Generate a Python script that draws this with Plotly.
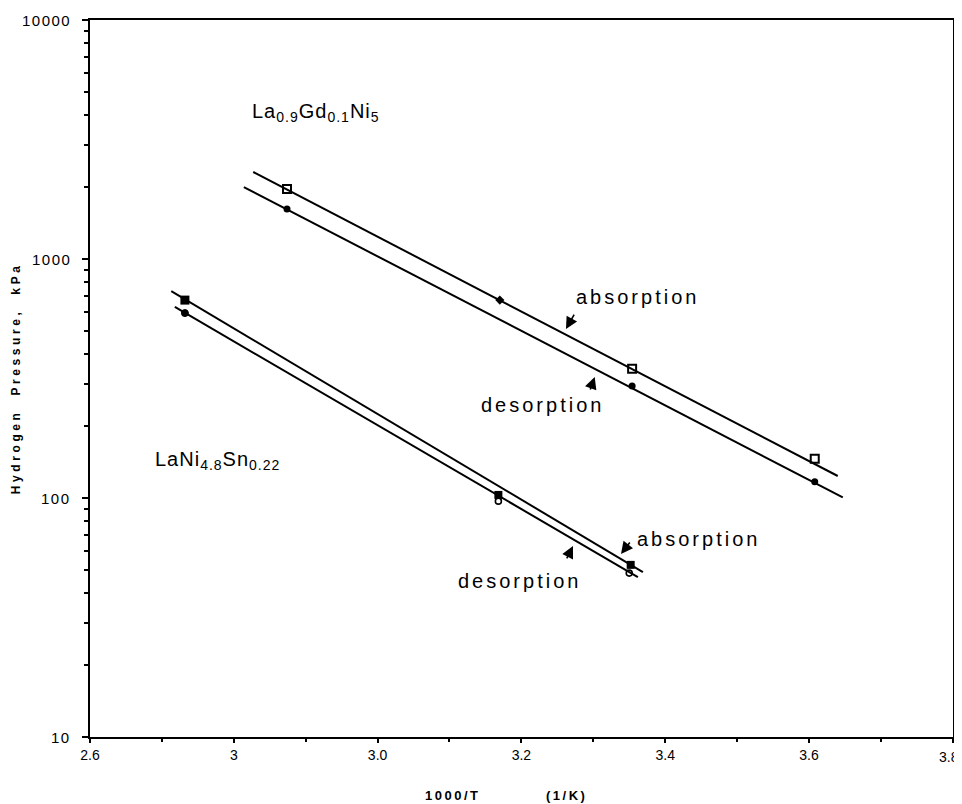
import math
import plotly.graph_objects as go

# ---------------- data ----------------
# La0.9Gd0.1Ni5
gd_abs_x = [2.874, 3.354, 3.608]
gd_abs_y = [1963, 347, 146]
gd_mid_x = [3.170]
gd_mid_y = [673]
gd_des_x = [2.874, 3.354, 3.608]
gd_des_y = [1619, 294, 117]
gd_abs_fit_x = [2.827, 3.640]
gd_abs_fit_y = [2312, 123.6]
gd_des_fit_x = [2.814, 3.647]
gd_des_fit_y = [2000, 100.5]

# LaNi4.8Sn0.22
sn_abs_x = [2.732, 3.168, 3.352]
sn_abs_y = [673, 103, 52.5]
sn_des_x = [2.732, 3.168, 3.350]
sn_des_y = [594, 97, 48.5]
sn_abs_fit_x = [2.713, 3.369]
sn_abs_fit_y = [734, 49.0]
sn_des_fit_x = [2.718, 3.362]
sn_des_fit_y = [630, 46.7]

x_tickvals = [2.6, 2.8, 3.0, 3.2, 3.4, 3.6, 3.8]
x_ticktext = ["2.6", "3", "3.0", "3.2", "3.4", "3.6", "3.8"]
y_tickvals = [10, 100, 1000, 10000]
y_ticktext = ["10", "100", "1000", "10000"]

FONT = "Liberation Sans, Arial, sans-serif"
BLACK = "#000000"

def spaced(t, px):
    return f'<span style="letter-spacing:{px}px">{t}</span>'

fig = go.Figure()

line_style = dict(color=BLACK, width=2)
for fx, fy in [(gd_abs_fit_x, gd_abs_fit_y), (gd_des_fit_x, gd_des_fit_y),
               (sn_abs_fit_x, sn_abs_fit_y), (sn_des_fit_x, sn_des_fit_y)]:
    fig.add_trace(go.Scatter(x=fx, y=fy, mode="lines", line=line_style,
                             showlegend=False, hoverinfo="skip"))

fig.add_trace(go.Scatter(x=gd_abs_x, y=gd_abs_y, mode="markers",
                         marker=dict(symbol="square-open", size=8, color=BLACK, opacity=1,
                                     line=dict(width=2, color=BLACK)),
                         showlegend=False))
fig.add_trace(go.Scatter(x=gd_mid_x, y=gd_mid_y, mode="markers",
                         marker=dict(symbol="diamond", size=7, color=BLACK, opacity=1),
                         showlegend=False))
fig.add_trace(go.Scatter(x=gd_des_x, y=gd_des_y, mode="markers",
                         marker=dict(symbol="circle", size=7, color=BLACK, opacity=1),
                         showlegend=False))
fig.add_trace(go.Scatter(x=sn_abs_x, y=sn_abs_y, mode="markers",
                         marker=dict(symbol="square", size=[9, 8, 8], color=BLACK,
                                     opacity=1, line=dict(width=0)),
                         showlegend=False))
fig.add_trace(go.Scatter(x=sn_des_x, y=sn_des_y, mode="markers",
                         marker=dict(symbol=["circle", "circle-open", "circle-open"],
                                     size=[7, 6, 6], color=BLACK, opacity=1,
                                     line=dict(width=[1, 1.6, 1.6], color=BLACK)),
                         showlegend=False))

ann = []
def label(x, y, text, size=20, sp=3, xanchor="center"):
    ann.append(dict(x=x, y=math.log10(y), xref="x", yref="y", text=spaced(text, sp),
                    showarrow=False, xanchor=xanchor, yanchor="middle",
                    font=dict(family=FONT, size=size, color=BLACK)))

def arrow(x, y, ax, ay):
    ann.append(dict(x=x, y=math.log10(y), xref="x", yref="y", text="", showarrow=True,
                    arrowhead=2, arrowsize=1.5, arrowwidth=1.6, arrowcolor=BLACK,
                    ax=ax, ay=ay, standoff=0))

label(3.362, 693, "absorption")
label(3.230, 245, "desorption")
label(3.446, 67.3, "absorption")
label(3.198, 45.0, "desorption")
label(2.8225, 4121, "La<sub>0.9</sub>Gd<sub>0.1</sub>Ni<sub>5</sub>", sp=1, xanchor="left")
label(2.6876, 144, "LaNi<sub>4.8</sub>Sn<sub>0.22</sub>", sp=1, xanchor="left")

arrow(3.262, 509, 9, -16)
arrow(3.302, 321, -5, 14)
arrow(3.3385, 58.3, 10, -13)
arrow(3.2718, 63, -7, 14)

# y tick labels, placed a little further from the axis than plotly's default
for v, t in zip(y_tickvals, y_ticktext):
    ann.append(dict(x=-0.0197, y=math.log10(v), xref="paper", yref="y",
                    text=spaced(t, 1.5), showarrow=False, xanchor="right",
                    yanchor="middle",
                    font=dict(family=FONT, size=15, color=BLACK)))

# last x tick label sits at the page edge: draw it right-anchored so it stays visible
ann.append(dict(x=1.0093, y=-0.028, xref="paper", yref="paper",
                text=x_ticktext[-1], showarrow=False, xanchor="right", yanchor="middle",
                font=dict(family=FONT, size=14, color=BLACK)))
axis_ticktext = x_ticktext[:-1] + [""]

# axis titles as annotations (paper coords)
for xt, txt in [(0.4206, "1000/T"), (0.5516, "(1/K)")]:
    ann.append(dict(x=xt, y=-0.082, xref="paper", yref="paper",
                    text="<b>" + spaced(txt, 2.5) + "</b>",
                    showarrow=False, xanchor="center", yanchor="middle",
                    font=dict(family=FONT, size=13, color=BLACK)))
ann.append(dict(x=-0.086, y=0.5, xref="paper", yref="paper",
                text="<b>" + spaced("Hydrogen&nbsp;&nbsp;Pressure,&nbsp;&nbsp;kPa", 3.6) + "</b>",
                textangle=-90, showarrow=False, xanchor="center", yanchor="middle",
                font=dict(family=FONT, size=12, color=BLACK)))

# the page body adds an 8px offset, so the figure is 8px smaller
fig.update_layout(
    width=954, height=796,
    margin=dict(l=82, r=9, t=12, b=67, autoexpand=False),
    paper_bgcolor="white", plot_bgcolor="white",
    font=dict(family=FONT, size=14, color=BLACK),
    annotations=ann,
    showlegend=False,
)

fig.update_xaxes(
    range=[2.6, 3.8003], tickmode="array", tickvals=x_tickvals, ticktext=axis_ticktext,
    showgrid=False, zeroline=False, showline=True, linewidth=2, linecolor=BLACK,
    mirror=True, ticks="outside", ticklen=4, tickwidth=1.5, tickcolor=BLACK,
    minor=dict(tickmode="linear", tick0=2.6, dtick=0.1, ticks="outside",
               ticklen=3, tickwidth=1.5, tickcolor=BLACK),
    tickfont=dict(family=FONT, size=14, color=BLACK),
    ticklabeloverflow="allow",
    automargin=False,
)
minor_y = [m * 10 ** e for e in range(1, 4) for m in range(2, 10)]
fig.update_yaxes(
    type="log", range=[1, 4], tickmode="array", tickvals=y_tickvals,
    showticklabels=False,
    showgrid=False, zeroline=False, showline=True, linewidth=2, linecolor=BLACK,
    mirror=True, ticks="outside", ticklen=6, tickwidth=1.5, tickcolor=BLACK,
    minor=dict(tickmode="array", tickvals=minor_y, ticks="outside", ticklen=4,
               tickwidth=1.5, tickcolor=BLACK),
    automargin=False,
)

fig.write_html("out.html")
